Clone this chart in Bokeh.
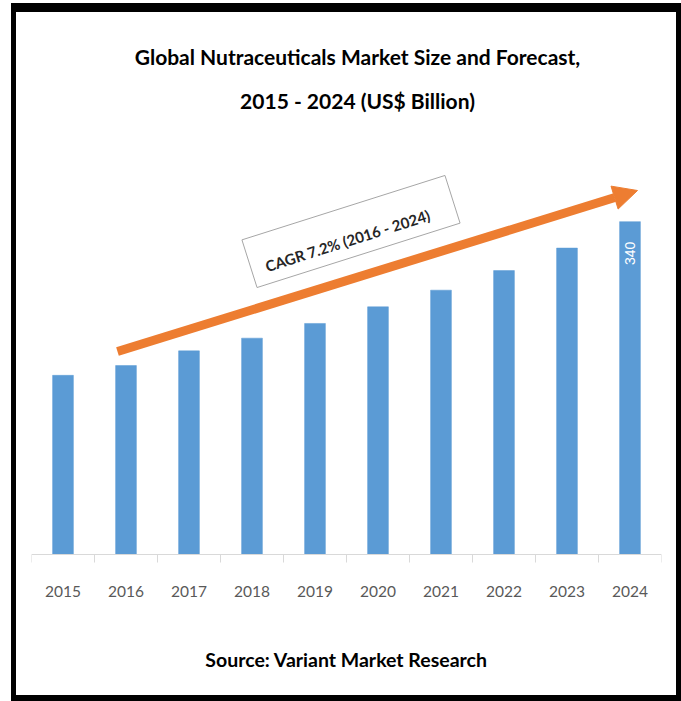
import math
from bokeh.plotting import figure
from bokeh.models import FactorRange, Range1d, Label, Arrow, NormalHead, Span
from bokeh.core.properties import value
from bokeh.embed import file_html
from bokeh.resources import INLINE

# ---------------- data ----------------
years = ["2015", "2016", "2017", "2018", "2019", "2020", "2021", "2022", "2023", "2024"]
market = [183, 193, 208, 221, 236, 253, 270, 290, 313, 340]
title_lines = ["Global Nutraceuticals Market Size and Forecast,", "2015 - 2024 (US$ Billion)"]
cagr_text = "CAGR 7.2% (2016 - 2024)"
source_text = "Source: Variant Market Research"

# ---------------- geometry (page pixels) ----------------
CANVAS_X, CANVAS_Y = 16, 12          # inside the black frame
W, H = 660, 683
FRAME_L, FRAME_R = 31, 661
FRAME_T, FRAME_B = 12, 570
BASE = 554
PX_PER_UNIT = 0.979
TEXT_CX = 357                        # centre line of the title
SOURCE_CX = 362.5                    # centre line of the source line
n = len(years)
slot = (FRAME_R - FRAME_L) / n


def dx(px):
    return (px - FRAME_L) / slot


def dy(py):
    return (BASE - py) / PX_PER_UNIT


BLUE = "#5B9BD5"
ORANGE = "#ED7D31"
GRID = "#D9D9D9"

p = figure(width=W, height=H,
           x_range=FactorRange(*years),
           y_range=Range1d(dy(FRAME_B), dy(FRAME_T)),
           output_backend="svg", toolbar_location=None,
           y_axis_location=None,
           min_border_left=FRAME_L - CANVAS_X,
           min_border_right=CANVAS_X + W - FRAME_R,
           min_border_top=FRAME_T - CANVAS_Y,
           min_border_bottom=CANVAS_Y + H - FRAME_B)
p.outline_line_color = None
p.xgrid.grid_line_color = None
p.ygrid.grid_line_color = None
p.background_fill_color = "white"
p.border_fill_color = "white"
# black picture frame drawn as box shadows (does not change layout)
p.styles = {"margin-left": f"{CANVAS_X}px", "margin-top": f"{CANVAS_Y}px",
            "box-shadow": "0 -4px 0 5px black, 0 1px 0 5px black"}

# axis: year labels, source line as the axis label (centred on the axis bounds)
ax = p.xaxis[0]
b_start = 0.49
b_end = dx(2 * SOURCE_CX - (FRAME_L + b_start * slot))
ax.bounds = (b_start, b_end)
ax.axis_line_color = None
ax.major_tick_line_color = None
ax.minor_tick_line_color = None
ax.major_tick_out = 0
ax.major_tick_in = 0
ax.major_label_standoff = 15
ax.major_label_text_font = "Lato"
ax.major_label_text_font_size = "15.5px"
ax.major_label_text_color = "#595959"
ax.axis_label = source_text
ax.axis_label_standoff = 48
ax.axis_label_text_font = "Lato"
ax.axis_label_text_font_style = "bold"
ax.axis_label_text_font_size = "19.5px"
ax.axis_label_text_color = "black"

# baseline and boundary ticks
p.add_layout(Span(location=0, dimension="width", line_color=GRID, line_width=1))
bounds = list(range(n + 1))
p.segment(x0=bounds, y0=[0] * len(bounds), x1=bounds, y1=[dy(BASE + 8)] * len(bounds),
          line_color=GRID, line_width=1)

# bars
p.vbar(x=years, top=market, width=0.33, fill_color=BLUE, line_color=BLUE, line_width=0.5)

# value label on last bar
p.text(x=[years[-1]], y=[market[-1] - 20 / PX_PER_UNIT], text=[str(market[-1])],
       angle=math.pi / 2, text_align="right", text_baseline="middle",
       text_color="white", text_font=value("Liberation Sans"), text_font_size="14px")

# CAGR arrow
p.add_layout(Arrow(end=NormalHead(size=24, fill_color=ORANGE, line_color=ORANGE, line_width=1),
                   x_start=dx(117), y_start=dy(351), x_end=dx(637), y_end=dy(190),
                   line_color=ORANGE, line_width=9))

# CAGR box
box_ang = math.radians(17.6)
p.rect(x=[dx(350.5)], y=[dy(231)], width=[213], height=[50],
       width_units="screen", height_units="screen", angle=[box_ang],
       fill_color="white", line_color="#A6A6A6", line_width=1)
p.add_layout(Label(x=dx(347), y=dy(240), text=cagr_text, angle=box_ang,
                   text_align="center", text_baseline="middle",
                   text_font="Lato", text_font_style="bold", text_font_size="15px",
                   text_color="#262626"))

# titles
for txt, ypx in zip(title_lines, [56, 100]):
    p.add_layout(Label(x=dx(TEXT_CX), y=dy(ypx), text=txt, text_align="center",
                       text_baseline="middle", text_font="Lato", text_font_style="bold",
                       text_font_size="21px", text_color="black"))

open("out.html", "w").write(file_html(p, INLINE))
